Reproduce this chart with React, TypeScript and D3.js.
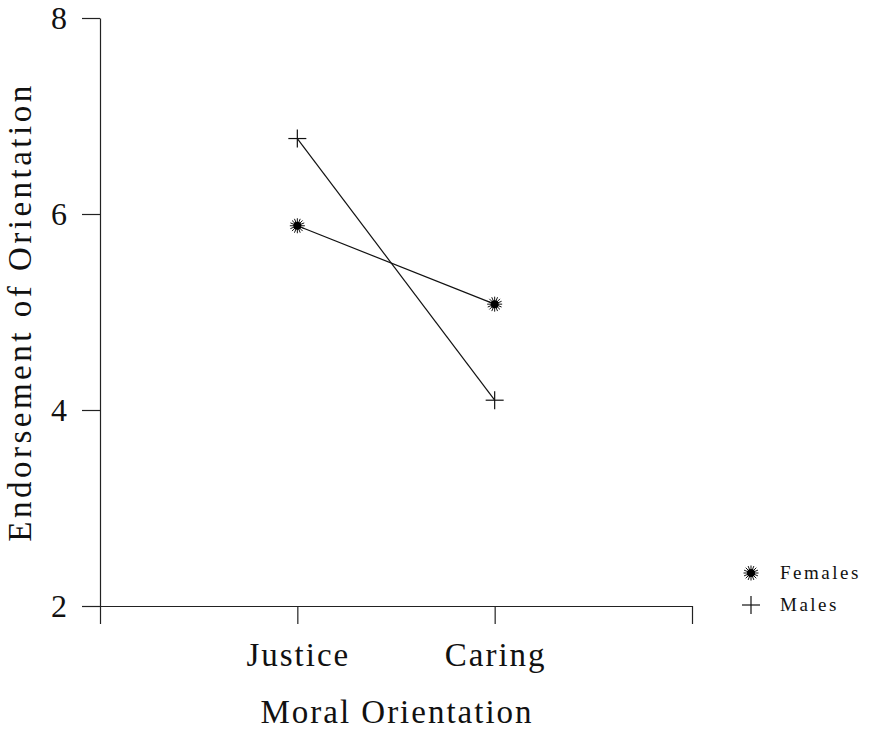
import React, { useEffect, useRef } from 'react';
import * as d3 from 'd3';

// data
const categories = ['Justice', 'Caring'];
const females = [5.88, 5.08];
const males = [6.77, 4.1];
const yTicks = [2, 4, 6, 8];

const series = [
  { name: 'Females', values: females, marker: 'star' },
  { name: 'Males', values: males, marker: 'plus' },
];

const App = () => {
  const ref = useRef<SVGSVGElement>(null);

  useEffect(() => {
    const svg = d3.select(ref.current);
    svg.selectAll('*').remove();

    const width = 874;
    const height = 729;
    const margin = { top: 18, right: 182, bottom: 123, left: 100 };
    const font = '"Liberation Serif", "DejaVu Serif", serif';

    svg.attr('width', width).attr('height', height);

    const x = d3.scaleLinear()
      .domain([0, 3])
      .range([margin.left, width - margin.right]);

    const y = d3.scaleLinear()
      .domain([2, 8])
      .range([height - margin.bottom, margin.top]);

    // y axis
    const yAxis = svg.append('g')
      .attr('transform', `translate(${margin.left},0)`)
      .call(d3.axisLeft(y).tickValues(yTicks).tickFormat(d3.format('d')).tickSize(18).tickPadding(15).tickSizeOuter(0));
    yAxis.select('.domain').attr('stroke', '#222').attr('stroke-width', 1.2);
    yAxis.selectAll('.tick line').attr('stroke', '#222').attr('stroke-width', 1.2);
    yAxis.selectAll('text')
      .attr('font-family', font)
      .attr('font-size', 32)
      .attr('fill', '#111');

    // x axis
    const xAxis = svg.append('g')
      .attr('transform', `translate(0,${height - margin.bottom})`)
      .call(d3.axisBottom(x).tickValues([0, 1, 2, 3]).tickSize(18).tickSizeOuter(0).tickFormat(() => ''));
    xAxis.select('.domain').attr('stroke', '#222').attr('stroke-width', 1.2);
    xAxis.selectAll('.tick line').attr('stroke', '#222').attr('stroke-width', 1.2);

    // category labels
    svg.selectAll('.cat')
      .data(categories)
      .join('text')
      .attr('class', 'cat')
      .attr('x', (d, i) => x(i + 1) + 1)
      .attr('y', 666)
      .attr('text-anchor', 'middle')
      .attr('font-family', font)
      .attr('font-size', 33)
      .attr('letter-spacing', 2)
      .attr('fill', '#111')
      .text(d => d);

    svg.append('text')
      .attr('x', 397)
      .attr('y', 723)
      .attr('text-anchor', 'middle')
      .attr('font-family', font)
      .attr('font-size', 33)
      .attr('letter-spacing', 2)
      .attr('fill', '#111')
      .text('Moral Orientation');

    svg.append('text')
      .attr('transform', `translate(31,${(margin.top + height - margin.bottom) / 2}) rotate(-90)`)
      .attr('text-anchor', 'middle')
      .attr('font-family', font)
      .attr('font-size', 33)
      .attr('letter-spacing', 3.5)
      .attr('fill', '#111')
      .text('Endorsement of Orientation');

    const line = d3.line<number>()
      .x((d, i) => x(i + 1))
      .y(d => y(d));

    const drawMarker = (g: any, type: string, cx: number, cy: number) => {
      if (type === 'star') {
        const r = 7.5;
        d3.range(16).forEach(k => {
          const a = (k * Math.PI) / 8;
          g.append('line')
            .attr('x1', cx).attr('y1', cy)
            .attr('x2', cx + r * Math.cos(a)).attr('y2', cy + r * Math.sin(a))
            .attr('stroke', '#111').attr('stroke-width', 1);
        });
        g.append('circle').attr('cx', cx).attr('cy', cy).attr('r', 4).attr('fill', '#000');
      } else {
        const r = 9;
        g.append('line').attr('x1', cx - r).attr('x2', cx + r).attr('y1', cy).attr('y2', cy)
          .attr('stroke', '#111').attr('stroke-width', 1.2);
        g.append('line').attr('x1', cx).attr('x2', cx).attr('y1', cy - r).attr('y2', cy + r)
          .attr('stroke', '#111').attr('stroke-width', 1.2);
      }
    };

    series.forEach(s => {
      svg.append('path')
        .datum(s.values)
        .attr('d', line)
        .attr('fill', 'none')
        .attr('stroke', '#111')
        .attr('stroke-width', 1.2);
      const g = svg.append('g');
      s.values.forEach((v, i) => drawMarker(g, s.marker, x(i + 1), y(v)));
    });

    // legend
    const legend = svg.append('g');
    series.forEach((s, i) => {
      const ly = 573 + i * 32;
      drawMarker(legend, s.marker, 751, ly);
      legend.append('text')
        .attr('x', 780)
        .attr('y', ly + 6)
        .attr('font-family', font)
        .attr('font-size', 19)
        .attr('letter-spacing', 2.5)
        .attr('fill', '#111')
        .text(s.name);
    });
  }, []);

  return <svg ref={ref} style={{ position: 'absolute', left: 0, top: 0 }}></svg>;
};

export default App;
